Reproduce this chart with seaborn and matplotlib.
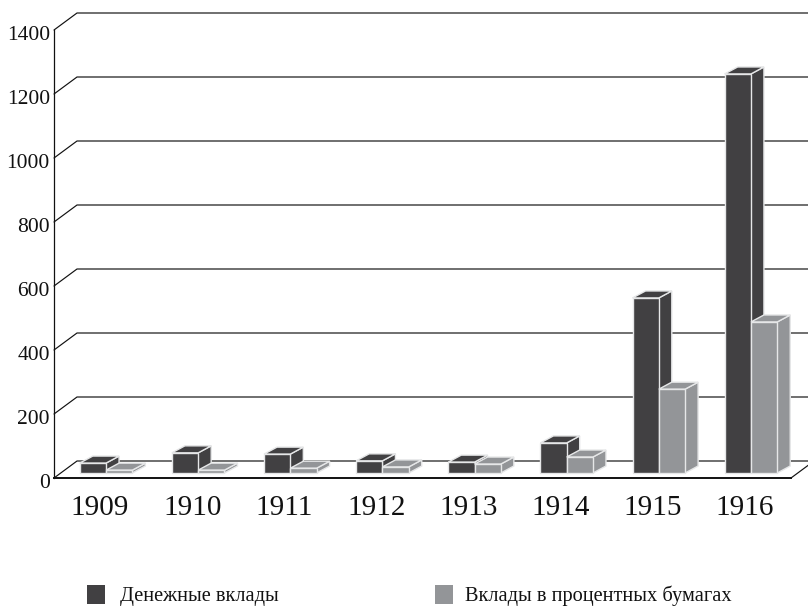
import matplotlib
matplotlib.use("Agg")
import matplotlib.pyplot as plt
from matplotlib.patches import Polygon
from matplotlib.transforms import Affine2D
import pandas as pd
import seaborn as sns

years = ["1909", "1910", "1911", "1912", "1913", "1914", "1915", "1916"]
deposits = [31, 63, 59, 38, 34, 94, 547, 1247]
securities = [9, 9, 15, 19, 28, 50, 262, 472]
series_names = ["Денежные вклады", "Вклады в процентных бумагах"]
y_ticks = [0, 200, 400, 600, 800, 1000, 1200, 1400]

DARK = "#414042"
LIGHT = "#939598"
W, H = 808, 608

sns.set_style("white")
plt.rcParams["font.family"] = ["Liberation Serif", "DejaVu Serif"]

df = pd.DataFrame({
    "year": years * 2,
    "value": deposits + securities,
    "series": [series_names[0]] * len(years) + [series_names[1]] * len(years),
})

fig = plt.figure(figsize=(W / 100, H / 100), dpi=100, facecolor="white")
ax = fig.add_axes([54 / W, 1 - 478 / H, (791 - 54) / W, (478 - 30) / H])
ax.patch.set_alpha(0)

sns.barplot(data=df, x="year", y="value", hue="series",
            palette=[DARK, LIGHT], width=0.571, gap=0, ax=ax,
            saturation=1, edgecolor="#e6e7e8", linewidth=1.0)
ax.set_xlim(-0.5, 7.5)
ax.set_ylim(0, 1400)
ax.set_xlabel("")
ax.set_ylabel("")

# pixel -> data scale factors
px_x = 8 / (791 - 54)
px_y = 1400 / (478 - 30)

# back wall: diagonals and gridlines
wall_dx, wall_dy = 23 * px_x, 17 * px_y
for v in y_ticks:
    ax.plot([-0.5, -0.5 + wall_dx, 7.5 + 40 * px_x], [v, v + wall_dy, v + wall_dy],
            color="#111111", lw=0.85, clip_on=False, zorder=1, solid_joinstyle="miter")
ax.plot([7.5, 7.5 + wall_dx], [0, wall_dy], color="#111111", lw=0.85, clip_on=False, zorder=1)

# 3-D extrusion of every bar
bar_tf = ax.transData + Affine2D().translate(6, 5)
depth_x, depth_y = 13 * px_x, 7 * px_y
z = 3
for container, color in zip(ax.containers, [DARK, LIGHT]):
    for bar in container:
        x0, w, h = bar.get_x(), bar.get_width(), bar.get_height()
        x1 = x0 + w
        side = [(x1, 0), (x1 + depth_x, depth_y), (x1 + depth_x, h + depth_y), (x1, h)]
        top = [(x0, h), (x0 + depth_x, h + depth_y), (x1 + depth_x, h + depth_y), (x1, h)]
        for pts in (side, top):
            ax.add_patch(Polygon(pts, closed=True, facecolor=color, edgecolor="#e6e7e8",
                                 linewidth=1.0, transform=bar_tf, clip_on=False, zorder=z,
                                 joinstyle="miter"))
        bar.set_transform(bar_tf)
        bar.set_clip_on(False)
        bar.set_zorder(z + 0.5)
        z += 1

sns.despine(ax=ax)
for s, lw in (("left", 0.9), ("bottom", 1.4)):
    ax.spines[s].set_linewidth(lw)
    ax.spines[s].set_color("#111111")
    ax.spines[s].set_zorder(2)

ax.set_yticks(y_ticks)
ax.tick_params(axis="y", length=0, pad=3, labelsize=15.5, labelcolor="#111111")
ax.tick_params(axis="x", length=0, pad=12, labelsize=21, labelcolor="#111111")
for t in ax.get_yticklabels():
    t.set_verticalalignment("center_baseline")
    t.set_transform(t.get_transform() + Affine2D().translate(0, -3))

handles, labels = ax.get_legend_handles_labels()
for hd in handles:
    hd.set_edgecolor("none")
leg = ax.legend(handles, labels, loc="lower left", bbox_to_anchor=(87 / W, 1.5 / H),
                bbox_transform=fig.transFigure, ncol=2, frameon=False, fontsize=14.7,
                handlelength=0.885, handleheight=0.985, handletextpad=0.74, columnspacing=7.65,
                borderpad=0, borderaxespad=0, labelcolor="#111111")
leg_texts = leg.get_texts()
leg_texts[0].set_position((0, 0))
leg_texts[1].set_position((-3, 0))

fig.savefig("out.png", dpi=100)
